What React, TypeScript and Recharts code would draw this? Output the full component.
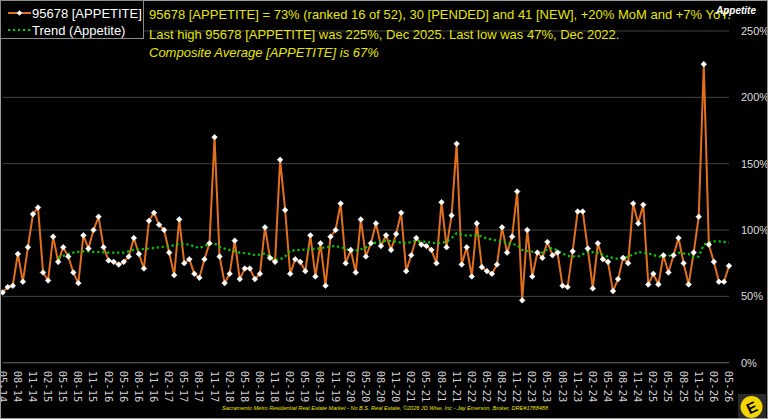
import React from 'react';
import { LineChart, Line, XAxis, YAxis, CartesianGrid } from 'recharts';

// ---- categories (monthly, 05-14 .. 05-26) ----
const START_YEAR = 2014;
const START_MONTH = 5;
const POINT_COUNT = 145;
const months: string[] = Array.from({ length: POINT_COUNT }, (_, i) => {
  const k = START_MONTH - 1 + i;
  const m = (k % 12) + 1;
  const y = (START_YEAR + Math.floor(k / 12)) % 100;
  return `${String(m).padStart(2, '0')}-${String(y).padStart(2, '0')}`;
});

// ---- tick labels shown on the x axis ----
const tickLabels = [
  '05-14', '08-14', '11-14', '02-15', '05-15', '08-15', '11-15', '02-16', '05-16', '08-16',
  '11-16', '02-17', '05-17', '08-17', '11-17', '02-18', '05-18', '08-18', '11-18', '02-19',
  '05-19', '08-19', '11-19', '02-20', '05-20', '08-20', '11-20', '02-21', '05-21', '08-21',
  '11-21', '02-22', '05-22', '08-22', '11-22', '02-23', '05-23', '08-23', '11-23', '02-24',
  '05-24', '08-24', '11-24', '02-25', '05-25', '08-25', '11-25', '02-26', '05-26',
];

const yTicks = [0, 50, 100, 150, 200, 250];

// ---- series: 95678 [APPETITE] (%) ----
const appetite = [
  53, 57, 58, 82, 61, 87, 112, 117, 68, 62,
  95, 76, 87, 80, 68, 60, 96, 86, 100, 110,
  87, 77, 76, 74, 76, 80, 94, 82, 71, 107,
  113, 104, 100, 83, 66, 108, 75, 78, 67, 64,
  78, 90, 170, 80, 60, 67, 92, 63, 71, 71,
  63, 67, 102, 79, 76, 153, 115, 67, 78, 76,
  69, 96, 65, 90, 58, 95, 100, 120, 75, 85,
  68, 108, 80, 90, 105, 88, 96, 85, 97, 113,
  69, 81, 94, 89, 88, 85, 75, 121, 87, 111,
  165, 74, 87, 65, 105, 72, 69, 67, 74, 102,
  83, 95, 129, 47, 100, 65, 83, 79, 91, 81,
  83, 58, 57, 84, 114, 114, 86, 56, 90, 78,
  76, 54, 63, 79, 75, 120, 105, 119, 59, 67,
  59, 81, 68, 81, 94, 75, 59, 83, 110, 225,
  89, 76, 61, 61, 73,
];

// ---- series: Trend (Appetite) (%), starts at 04-15 ----
const trend: (number | null)[] = [
  null, null, null, null, null, null, null, null, null, null,
  null, 79, 80.5, 82, 83, 83.5, 84, 83.8, 83.5, 83.4,
  83.2, 83, 83, 83, 83, 84, 85, 85.3, 85.7, 86,
  86.5, 87, 87.4, 88, 88.5, 89.5, 89.5, 89, 87.5, 86.5,
  88, 89.5, 90, 87.4, 86, 85, 84, 83, 82.5, 82,
  81.2, 81.5, 82.4, 80, 77.5, 78, 80, 84.4, 84.7, 85,
  85.3, 85.6, 85.9, 86.2, 87, 87.5, 88, 87, 86.2, 83.7,
  84.5, 85.5, 86.7, 89.5, 90.5, 91.2, 92, 91.6, 91.2, 90.5,
  90, 91, 92, 91.5, 91, 90.5, 90, 90.5, 91.2, 94,
  97.5, 96.5, 95.7, 96, 96.2, 95, 93.7, 92.8, 92, 91.2,
  90.4, 89.5, 88.7, 85, 84.3, 83.7, 83.3, 82.9, 85.5, 86.5,
  84.5, 82.4, 80.4, 80.2, 79.9, 81.8, 83.7, 83.3, 82.9, 81.4,
  79.9, 79, 78.2, 79, 79.9, 81.6, 83.4, 82.9, 82.4, 81.2,
  79.9, 80.1, 80.4, 81.6, 82.9, 82.4, 81.9, 79.5, 80, 89,
  90.5, 91.5, 91.5, 91, 90.5,
];

const data = months.map((m, i) => ({ m, v: appetite[i], t: trend[i] }));

const ORANGE = '#E0701E';
const GREEN = '#00CC00';
const YELLOW = '#E6E600';
const GRID = '#444444';

const diamond = (cx: number, cy: number, r: number) =>
  `M${cx},${cy - r}L${cx + r},${cy}L${cx},${cy + r}L${cx - r},${cy}Z`;

const renderDot = (p: any) => {
  const { cx, cy, index } = p;
  if (cx == null || cy == null) return <g key={`d${index}`} />;
  return <path key={`d${index}`} d={diamond(cx, cy, 2.8)} fill="#FFFFFF" stroke="#FFFFFF" strokeWidth={0.6} />;
};

const XTick = (props: any) => {
  const { x, y, payload } = props;
  return (
    <text
      transform={`translate(${x},${y}) rotate(90)`}
      x={0}
      y={0}
      textAnchor="start"
      dominantBaseline="central"
      fontFamily="'DejaVu Sans Mono', monospace"
      fontSize={10.5}
      fill="#D0D0D0"
    >
      {payload.value}
    </text>
  );
};

export default function App() {
  return (
    <div style={{ position: 'absolute', left: 0, top: 0, width: 768, height: 419, background: '#000', overflow: 'hidden' }}>
      <LineChart
        width={768}
        height={419}
        data={data}
        margin={{ top: 31, right: 0, bottom: 0.3, left: 2.7 }}
        style={{ background: '#000' }}
      >
        <CartesianGrid vertical={false} stroke={GRID} strokeWidth={1} />
        <XAxis
          dataKey="m"
          ticks={tickLabels}
          interval={0}
          height={56}
          tick={<XTick />}
          tickLine={false}
          axisLine={{ stroke: '#555', strokeWidth: 1 }}
        />
        <YAxis
          orientation="right"
          domain={[0, 250]}
          ticks={yTicks}
          width={39}
          axisLine={false}
          tickLine={false}
          tickSize={0}
          tickMargin={12}
          tickFormatter={(v: number) => `${v}%`}
          tick={{ fill: '#DDDDDD', fontSize: 11, fontFamily: "'Liberation Sans', Arial, sans-serif" }}
        />
        <Line
          type="linear"
          dataKey="v"
          stroke={ORANGE}
          strokeWidth={2}
          dot={renderDot}
          activeDot={false}
          isAnimationActive={false}
        />
        <Line
          type="linear"
          dataKey="t"
          stroke={GREEN}
          strokeWidth={2.2}
          strokeDasharray="2.2 2.8"
          dot={false}
          activeDot={false}
          connectNulls={false}
          isAnimationActive={false}
        />
      </LineChart>

      <svg
        width={768}
        height={419}
        style={{ position: 'absolute', left: 0, top: 0, pointerEvents: 'none' }}
        fontFamily="'Liberation Sans', Arial, sans-serif"
      >
        <rect x={0.5} y={0.5} width={767} height={418} fill="none" stroke="#9A9A9A" strokeWidth={1} />

        {/* legend */}
        <rect x={0.5} y={0.5} width={143} height={38} fill="#000" stroke="#8A8A8A" strokeWidth={1} />
        <line x1={8} x2={31} y1={13} y2={13} stroke={ORANGE} strokeWidth={2} />
        <path d={diamond(19.5, 13, 2.8)} fill="#fff" />
        <text x={32} y={13} dominantBaseline="central" fontSize={13} fill="#FFFFFF">95678 [APPETITE]</text>
        <line x1={8} x2={31} y1={30} y2={30} stroke={GREEN} strokeWidth={2.2} strokeDasharray="2.2 2.8" />
        <text x={32} y={30} dominantBaseline="central" fontSize={13} fill="#FFFFFF">Trend (Appetite)</text>

        {/* headline texts */}
        <text x={149} y={14} dominantBaseline="central" fontSize={13} fill={YELLOW}>
          95678 [APPETITE] = 73% (ranked 16 of 52), 30 [PENDED] and 41 [NEW], +20% MoM and +7% YoY.
        </text>
        <text x={149} y={34} dominantBaseline="central" fontSize={13} fill={YELLOW}>
          Last high 95678 [APPETITE] was 225%, Dec 2025. Last low was 47%, Dec 2022.
        </text>
        <text x={149} y={52.5} dominantBaseline="central" fontSize={13} fontStyle="italic" fill={YELLOW}>
          Composite Average [APPETITE] is 67%
        </text>

        <text x={716} y={10} dominantBaseline="central" fontSize={10} fontWeight="bold" fontStyle="italic" fill="#FFFFFF">
          Appetite
        </text>

        {/* footer */}
        <text
          x={222}
          y={408}
          dominantBaseline="central"
          fontSize={5.6}
          fontStyle="italic"
          fill={YELLOW}
          textLength={326}
          lengthAdjust="spacingAndGlyphs"
        >
          Sacramento Metro Residential Real Estate Market - No B.S. Real Estate, ©2026 JD Wise, Inc - Jay Emerson, Broker, DRE#1788488
        </text>

        {/* logo */}
        <rect x={738} y={394} width={28} height={24} fill="#2A2A2A" />
        <circle cx={751.5} cy={407} r={11} fill="#F2D400" />
        <text
          x={751.5}
          y={407.5}
          textAnchor="middle"
          dominantBaseline="central"
          fontSize={15}
          fontWeight="bold"
          fill="#000"
          transform="rotate(-25 751.5 407)"
        >
          E
        </text>
      </svg>
    </div>
  );
}
